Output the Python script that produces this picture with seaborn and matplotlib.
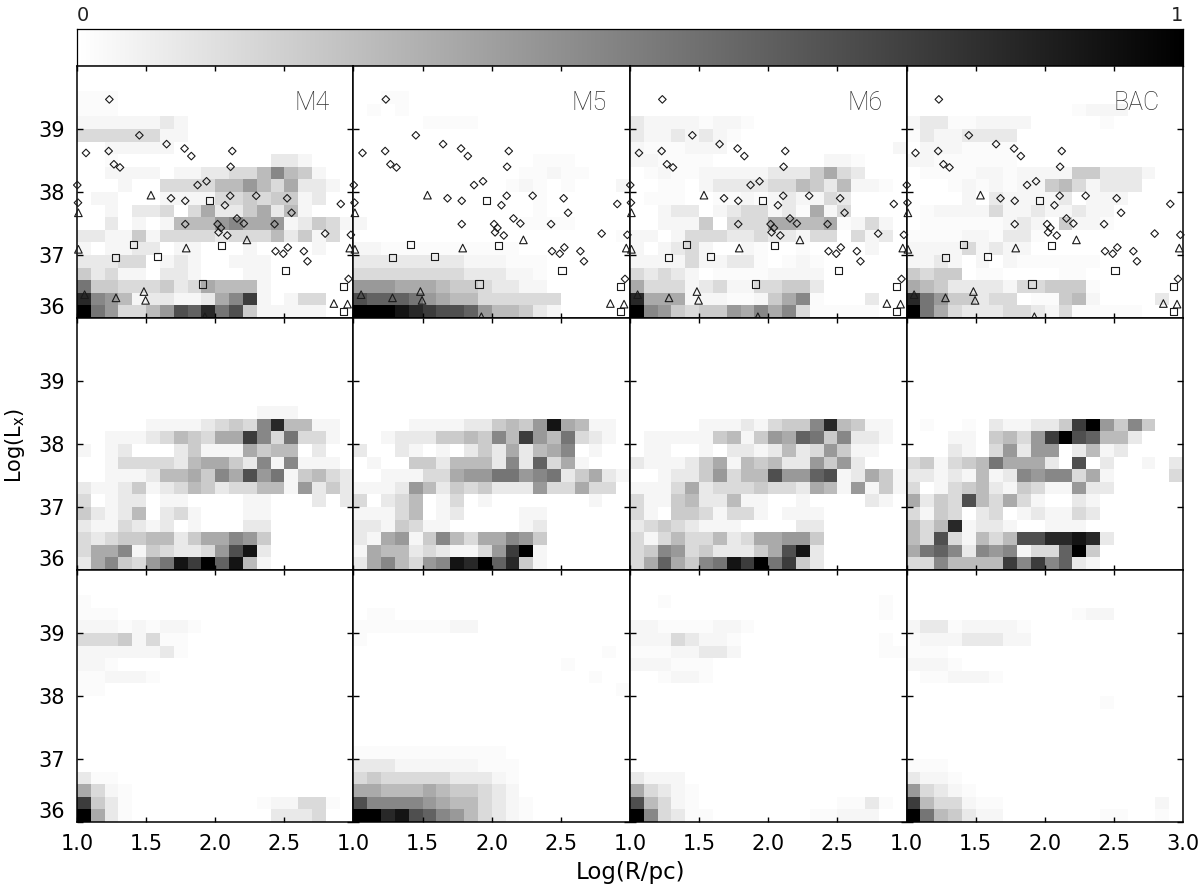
import numpy as np
import matplotlib
matplotlib.use('Agg')
import matplotlib.pyplot as plt
from matplotlib.transforms import ScaledTranslation
import seaborn as sns

# grey levels, 0 white .. f black, '.' is half a level
# rows run from Log(Lx)=40 down to 36, columns from Log(R)=1 to 3
m4_top = ['', '', '...', '...', '11111121', '33333311', '0011111', '00.00000000000221',
          '00111101122335854100', '00010033335575362210', '01100011113343441200', '00102230362246251000',
          '00201015557866712431', '22114133332333524130', '10112201100010000100', '22233012100111000000',
          '42311022100011000000', '94433342365551000000', 'd87512211268c1013300', 'f973357bad9b41111100']
m5_top = ['', '', '00..', '0.0.', '00000....', '', '', '0000000000000...',
          '000000000000..1..', '00000000000.1.0.0001', '0000000000000.', '0000000000000.',
          '100000000000....', '0000000000000000000.', '11..........', '2222222211' + '1...',
          '3333333322' + '211.', '7776665443' + '2211', 'baaa976553' + '33333', 'fffedcbba7' + '55421']
m6_top = ['', '', '', '', '21111.11.', '2112121.', '1...1110000000000001', '11....0000000011.',
          '0.1..111112224632000', '00..01222233542511.0', '0...00..1.1211320000', '001220123312.6130000',
          '001114033366556.1310', '11013332232213303120', '101231001.00.0000100', '111131122.0.1.000000',
          '323210....1111000000', '63331231133442000000', 'd666111..1468.000200', 'f874344768683.....00']
bac_top = ['', '', '', '000000000000.111', '122..111100000.00000', '.2112222', '0111....', '11......',
           '0....11.111144222100', '000.1.1.114531222000', '00001021111201110000', '0.111131121121100000',
           '0......1210411.00000', '....11.22.', '1111312110', '11210101......000000',
           '43440..0000..0000000', '6542222133444.000000', 'd97442330..451000020', 'f96322233213.....000']

m4_mid = ['', '', '', '', '', '', '', '0000000000000111',
          '00000111123438d55110', '001112354366c8393310', '10120002411164550200', '00133332566428181110',
          '001112556486b7914532', '21124123542335517242', '30122011000011000202', '42125023100011000000',
          '21132120100022000000', '32344552466874000000', '36681432237be2000000', '2684379ecfae51000000']
m5_mid = ['', '', '', '', '', '', '', '',
          '00001111224547e65110', '001222445485c7593210', '20021010242625680100', '0100442555282a361000',
          '00111336779978924621', '11127524342227336330', '30235013010000000100', '11135012000011000000',
          '22143110000012000000', '21671485366874000000', '16552321137cf1000000', '2685378edfad41000000']
m6_mid = ['', '', '', '', '', '', '', '',
          '00000111213448d54110', '011111451476a9482210', '01100102212523741100', '21112461545227472000',
          '0012247355b77ab12641', '11136233343326517141', '31145225110010000210', '31044313310111000000',
          '23432111000022000000', '31353352366774000000', '34873422246be2000000', '36a6489ecf9c42000000']
bac_mid = ['', '', '', '', '', '', '', '',
           '0.00.0211224cf748400', '0001104537cfba552000', '00021037277025120000', '341345966620b0200102',
           '22121512878836100003', '30134521431172200000', '6243b536310021000000', '31430230121132000000',
           '535d1221001110000000', '53b31535bbdded200000', '69a82878133af4000000', '3385555c8c8a21000000']

m4_bot = ['', '', '.', '...', '111.1.11.', '333413..', '1111112.', '11.',
          '..111.', '..', '', '', '', '', '', '',
          '2..', '631.', 'c42.000000000.1133.', 'f62.00000000002223']
m5_bot = ['', '', '', '0..', '.......11', '.', '000000000000000000.', '000000000000000.',
          '00000000000000000.', '0000000000000000000.', '', '', '', '', '...........', '222111111...',
          '34333332221.', '665556544321', 'b88887655321.', 'ffdeba875321.']
m6_bot = ['', '', '00.000000000000000.', '000000000000000000.', '11....11.', '1113211.0000000000.', '...112210000000000..', '111...',
          '00.11.', '', '', '', '', '', '', '',
          '2111', '6321.', 'b531.0000000000..2.', 'f832..0000000..111']
bac_bot = ['', '', '', '000000000000.11', '122.1111.', '.11122211', '...', '111.',
           '0..111.', '', '00000000000000.', '', '', '', '', '...',
           '211.', '7321.', 'c5331..000000000001', 'f9542110000000..00.']

panel_names = ['M4', 'M5', 'M6', 'BAC']
rows = [[m4_top, m5_top, m6_top, bac_top],
        [m4_mid, m5_mid, m6_mid, bac_mid],
        [m4_bot, m5_bot, m6_bot, bac_bot]]

# sources in the top row, Log(R) and Log(Lx)
diamond_r = [1.234, 1.065, 1.229, 1.267, 1.311, 1.451, 1.648, 1.778, 1.827, 2.123, 2.111, 1.872, 1.937,
             1.680, 1.783, 2.108, 2.070, 2.296, 2.520, 2.552, 2.908, 2.157, 2.207, 1.783, 2.017, 2.041,
             2.024, 2.087, 2.429, 2.795, 2.981, 2.436, 2.492, 2.525, 2.641, 2.667, 2.964, 1.002, 1.007]
diamond_l = [39.47, 38.62, 38.65, 38.44, 38.39, 38.90, 38.76, 38.69, 38.57, 38.65, 38.40, 38.11, 38.17,
             37.90, 37.86, 37.94, 37.79, 37.94, 37.90, 37.67, 37.81, 37.58, 37.50, 37.49, 37.49, 37.43,
             37.36, 37.31, 37.49, 37.34, 37.32, 37.06, 37.02, 37.12, 37.06, 36.90, 36.62, 38.11, 37.83]
triangle_r = [1.535, 1.790, 2.229, 1.010, 1.010, 1.055, 1.282, 1.484, 1.496, 1.925, 2.858, 2.957, 2.973]
triangle_l = [37.95, 37.11, 37.24, 37.67, 37.09, 36.37, 36.32, 36.42, 36.28, 36.02, 36.23, 36.22, 37.11]
square_r = [1.959, 1.412, 2.048, 1.280, 1.583, 2.508, 1.908, 2.930, 2.930]
square_l = [37.87, 37.16, 37.15, 36.96, 36.97, 36.76, 36.54, 36.50, 36.10]

r_ticks = [1.0, 1.5, 2.0, 2.5]
l_ticks = [39, 38, 37, 36]

W, H = 1200, 890
x0, x1 = 77, 1183
y0, ph = 66, 252
pw = (x1 - x0) / 4

plt.rcParams['font.family'] = ['DejaVu Sans']
grey = sns.blend_palette(['#ffffff', '#000000'], as_cmap=True)


def decode(panel):
    levels = [[0.5 if c == '.' else int(c, 16) for c in row.ljust(20, '0')[:20]] for row in panel]
    # the light end of the picture sits a little paler than a straight scale
    return (np.array(levels) / 15) ** 1.2


def box(px, py, w, h):
    return [px / W, 1 - (py + h) / H, w / W, h / H]


def cell_x(r):
    return (np.array(r) - 1.0) * 10


def cell_y(l):
    return (40 - np.array(l)) * 5


fig = plt.figure(figsize=(W / 100, H / 100), dpi=100)

# gradient bar
cax = fig.add_axes(box(x0, 29, x1 - x0, 37))
sns.heatmap(np.linspace(0, 1, 256)[None, :], ax=cax, cmap=grey, vmin=0, vmax=1, cbar=False,
            xticklabels=False, yticklabels=False)
for s in cax.spines.values():
    s.set_visible(True)
    s.set_linewidth(0.9)
fig.text(x0 / W, 1 - 21 / H, '0', fontsize=14, ha='left', va='baseline', color='#222222')
fig.text(x1 / W, 1 - 21 / H, '1', fontsize=14, ha='right', va='baseline', color='#222222')

for i, row in enumerate(rows):
    for j, panel in enumerate(row):
        ax = fig.add_axes(box(x0 + j * pw, y0 + i * ph, pw, ph), zorder=1 if i == 0 else 3)
        sns.heatmap(decode(panel), ax=ax, cmap=grey, vmin=0, vmax=1, cbar=False,
                    xticklabels=False, yticklabels=False, linewidths=0)
        for s in ax.spines.values():
            s.set_visible(True)
            s.set_linewidth(1.1)
        ax.set_xticks(cell_x(r_ticks))
        ax.set_yticks(cell_y(l_ticks))
        ax.tick_params(axis='x', direction='in', top=True, bottom=True, length=3.6, width=1.0)
        ax.tick_params(axis='y', direction='in', left=True, right=True, length=4.6, width=1.0)
        ax.set_xticklabels([])
        ax.set_yticklabels([])
        ax.set_xlabel('')
        ax.set_ylabel('')
        if i == 2:
            ax.set_xticklabels([f'{r:.1f}' for r in r_ticks], fontsize=15)
            ax.tick_params(axis='x', pad=9)
            if j == 3:
                ax.text(20, 20, '3.0', fontsize=15, ha='center', va='top',
                        transform=ax.transData + ScaledTranslation(0, -9 / 72, fig.dpi_scale_trans))
        if j == 0:
            ax.set_yticklabels([str(v) for v in l_ticks], fontsize=15, rotation=0)
            ax.tick_params(axis='y', pad=9)
            ax.get_yticklabels()[-1].set_va('bottom')
        if i == 0:
            ax.text(18.3, 2.95, panel_names[j], fontsize=18, ha='right', va='center', color='#333333',
                    family='Roboto', weight='light')
            # sources go on a clear axes above the first row images
            over = fig.add_axes(box(x0 + j * pw, y0, pw, ph), zorder=2, facecolor='none')
            over.set_xlim(0, 20)
            over.set_ylim(20, 0)
            over.axis('off')
            for rr, ll, mk, size in [(diamond_r, diamond_l, 'D', 15), (triangle_r, triangle_l, '^', 30), (square_r, square_l, 's', 26)]:
                sns.scatterplot(x=cell_x(rr), y=cell_y(ll), ax=over, marker=mk, s=size, facecolor='none',
                                edgecolor='#1a1a1a', linewidth=0.8, clip_on=False, legend=False)

fig.text(15 / W, 1 - 445 / H, r'Log(L$_{\mathrm{x}}$)', fontsize=15, rotation=90, ha='center', va='center')
fig.text(631 / W, 1 - 873 / H, 'Log(R/pc)', fontsize=16.5, ha='center', va='center')

fig.savefig('out.png', dpi=100)
